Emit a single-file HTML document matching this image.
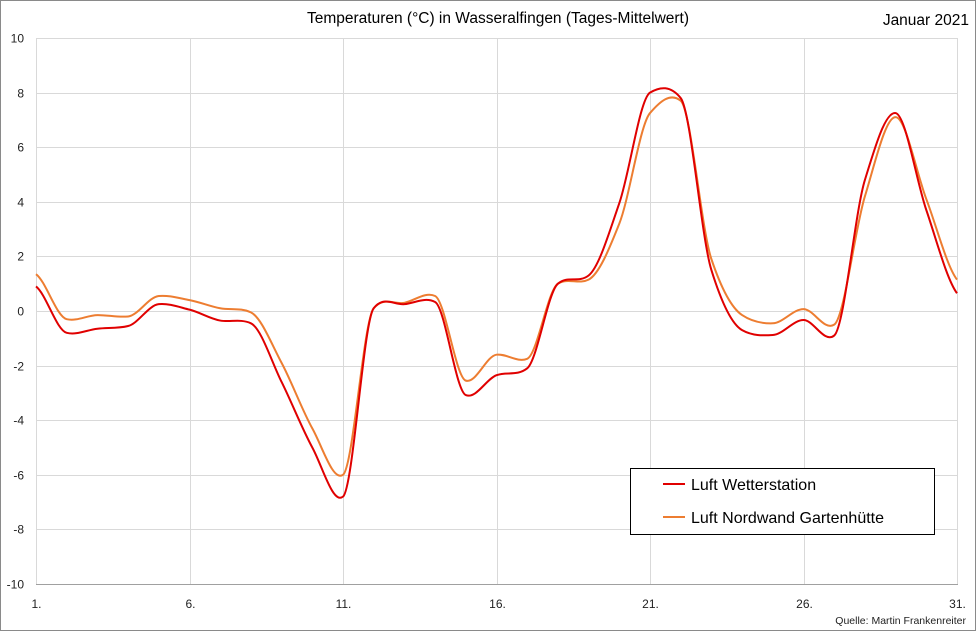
<!DOCTYPE html>
<html><head><meta charset="utf-8"><style>
body{margin:0;background:#fff}
svg{display:block;font-family:"Liberation Sans","DejaVu Sans",sans-serif}
</style></head><body>
<svg id="c" width="976" height="631" viewBox="0 0 976 631">
<rect x="0.5" y="0.5" width="975" height="630" fill="#fff" stroke="#8a8a8a"/>
<g id="grid" stroke="#d9d9d9" stroke-width="1"></g>
<line x1="36" y1="584.5" x2="958" y2="584.5" stroke="#a0a0a0"/>
<text x="498" y="23" font-size="15.5" text-anchor="middle" fill="#000">Temperaturen (°C) in Wasseralfingen (Tages-Mittelwert)</text>
<text x="969" y="25" font-size="15.5" text-anchor="end" fill="#000">Januar 2021</text>
<g id="yl" font-size="12" text-anchor="end" fill="#222"></g>
<g id="xl" font-size="12" text-anchor="middle" fill="#222"></g>
<text x="966" y="624" font-size="10.5" text-anchor="end" fill="#222">Quelle: Martin Frankenreiter</text>
<path id="o" fill="none" stroke="#ed7d31" stroke-width="2"/>
<path id="r" fill="none" stroke="#e00000" stroke-width="2"/>
<rect x="630.5" y="468.5" width="304" height="66" fill="#fff" stroke="#000"/>
<line x1="663" y1="484" x2="685" y2="484" stroke="#e00000" stroke-width="2"/>
<text x="691" y="490" font-size="16">Luft Wetterstation</text>
<line x1="663" y1="517" x2="685" y2="517" stroke="#ed7d31" stroke-width="2"/>
<text x="691" y="523" font-size="16">Luft Nordwand Gartenhütte</text>
</svg>
<script>
var X=function(d){return 36+(d-1)*30.7},Y=function(v){return 311-v*27.3};
var g=document.getElementById('grid'),yl=document.getElementById('yl'),xl=document.getElementById('xl'),ns='http://www.w3.org/2000/svg';
function el(p,t,a,tx){var e=document.createElementNS(ns,t);for(var k in a)e.setAttribute(k,a[k]);if(tx)e.textContent=tx;p.appendChild(e);}
for(var v=-10;v<=10;v+=2){var y=Math.round(Y(v))+0.5;if(v>-10)el(g,'line',{x1:36,y1:y,x2:958,y2:y});el(yl,'text',{x:24,y:y+4},String(v));}
[1,6,11,16,21,26,31].forEach(function(d){var x=Math.round(X(d))+0.5;el(g,'line',{x1:x,y1:38,x2:x,y2:584});el(xl,'text',{x:x,y:608},d+'.');});
el(g,'line',{x1:957.5,y1:38,x2:957.5,y2:584});
var R=[0.9,-0.8,-0.65,-0.55,0.25,0.05,-0.35,-0.45,-2.6,-5.0,-6.8,0.1,0.25,0.33,-3.08,-2.35,-2.1,1.0,1.3,3.95,8.0,7.8,1.5,-0.7,-0.88,-0.33,-0.9,4.8,7.25,3.7,0.65];
var O=[1.35,-0.3,-0.15,-0.2,0.55,0.4,0.1,-0.05,-1.9,-4.3,-6.0,0.1,0.3,0.55,-2.55,-1.6,-1.75,1.0,1.15,3.2,7.25,7.7,1.9,-0.15,-0.45,0.07,-0.5,4.2,7.1,4.1,1.15];
function path(a){var n=a.length,m=[];
for(var i=0;i<n;i++){var s0=i>0?a[i]-a[i-1]:null,s1=i<n-1?a[i+1]-a[i]:null;
 if(s0===null){m.push(s1*0.5);continue;} if(s1===null){m.push(s0*0.5);continue;}
 var cr=(s0+s1)/2,mo=(s0*s1<=0)?0:2*s0*s1/(s0+s1);m.push(0.35*cr+0.65*mo);}
var s='M'+X(1)+','+Y(a[0]);
for(var i=0;i<n-1;i++){var x1=X(i+1),x2=X(i+2),dx=(x2-x1)/3;
 s+=' C'+(x1+dx)+','+Y(a[i]+m[i]/3)+' '+(x2-dx)+','+Y(a[i+1]-m[i+1]/3)+' '+x2+','+Y(a[i+1]);}
return s;}
document.getElementById('r').setAttribute('d',path(R));
document.getElementById('o').setAttribute('d',path(O));
</script>
</body></html>
